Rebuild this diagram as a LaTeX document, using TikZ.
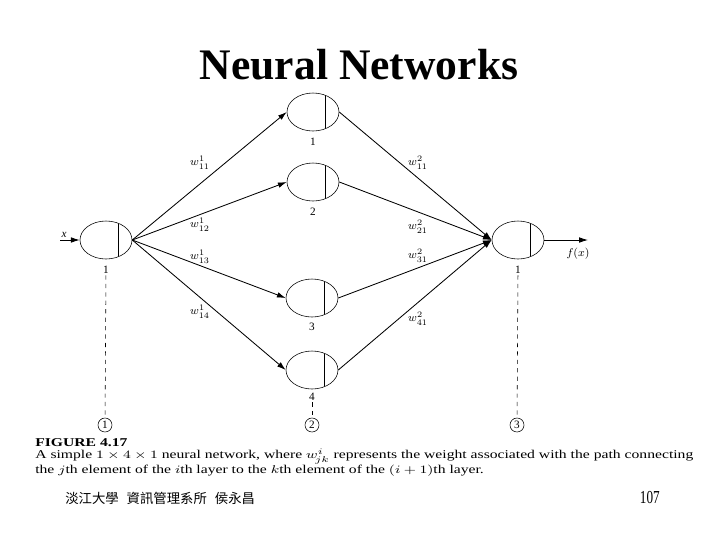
\documentclass[tikz,border=0pt]{standalone}
\usepackage{fontspec}
\setmainfont{Liberation Serif}
\newfontfamily\cjk{Noto Sans CJK TC}
\newfontfamily\pagefont[FakeStretch=0.72]{Liberation Serif}
\usetikzlibrary{arrows.meta,positioning,shapes.geometric}

\begin{document}
\begin{tikzpicture}[
    x=0.025cm, y=-0.025cm,
    neuron/.style={draw, ellipse, minimum width=1.3cm, minimum height=0.95cm, inner sep=0pt,
      path picture={\draw ([xshift=0.3cm]path picture bounding box.north) -- ([xshift=0.3cm]path picture bounding box.south);}},
    wire/.style={-{Latex[length=2.2mm, width=1.4mm]}, semithick},
    weight/.style={font=\fontsize{8}{9}\selectfont, inner sep=1pt},
    idx/.style={font=\fontsize{8}{9}\selectfont, inner sep=1pt},
    layer/.style={draw, circle, inner sep=0.5pt, minimum size=0.35cm, font=\fontsize{8}{9}\selectfont},
    guide/.style={dashed, thin},
    captext/.style={anchor=base west, inner sep=0pt, font=\fontsize{8.5}{9.5}\selectfont}
  ]
    \useasboundingbox (0,0) rectangle (720,540);

    % Title
    \node[font=\fontsize{31}{34}\selectfont\bfseries] (title) at (359,65) {Neural Networks};

    % Input layer
    \node[neuron] (in) at (106,240) {};
    \node[idx] (inlbl) at (106,270) {1};
    \coordinate (xin) at (60,240);
    \node[font=\fontsize{8}{9}\selectfont\itshape] (xlbl) at (64,235) {x};

    % Hidden layer
    \node[neuron] (h1) at (313,112) {};
    \node[neuron] (h2) at (313,182) {};
    \node[neuron] (h3) at (312,298) {};
    \node[neuron] (h4) at (312,370) {};
    \node[idx] (h1lbl) at (313,142) {1};
    \node[idx] (h2lbl) at (313,212) {2};
    \node[idx] (h3lbl) at (312,327) {3};
    \node[idx] (h4lbl) at (312,397) {4};

    % Output layer
    \node[neuron] (out) at (518,240) {};
    \node[idx] (outlbl) at (518,270) {1};
    \coordinate (fout) at (588,240);
    \node[font=\fontsize{8}{9}\selectfont] (flbl) at (578,254) {$f(x)$};

    % Layer markers
    \node[layer] (l1) at (105,425) {1};
    \node[layer] (l2) at (312,425) {2};
    \node[layer] (l3) at (517,425) {3};

    % Edges
    \draw[wire] (xin) -- (in.west);
    \foreach \h in {h1,h2,h3,h4} {
      \draw[wire] (in.east) -- (\h.west);
      \draw[wire] (\h.east) -- (out.west);
    }
    \draw[wire] (out.east) -- (fout);

    % Weights
    \node[weight] (w111) at (200,163) {$w^1_{11}$};
    \node[weight] (w112) at (200,225) {$w^1_{12}$};
    \node[weight] (w113) at (200,257) {$w^1_{13}$};
    \node[weight] (w114) at (200,312) {$w^1_{14}$};
    \node[weight] (w211) at (418,163) {$w^2_{11}$};
    \node[weight] (w221) at (418,227) {$w^2_{21}$};
    \node[weight] (w231) at (418,256) {$w^2_{31}$};
    \node[weight] (w241) at (418,319) {$w^2_{41}$};

    % Dashed guides
    \draw[guide] (inlbl) -- (l1);
    \draw[guide] (h4lbl) -- (l2);
    \draw[guide] (outlbl) -- (l3);

    % Caption
    \node[captext] (figno) at (35,446) {\scalebox{1.31}[1]{\bfseries FIGURE 4.17}};
    \node[captext] (capa) at (35,458) {\scalebox{1.31}[1]{A simple $1\times4\times1$ neural network, where $w^i_{\!jk}$ represents the weight associated with the path connecting}};
    \node[captext] (capb) at (35,473) {\scalebox{1.31}[1]{the $j$th element of the $i$th layer to the $k$th element of the $(i+1)$th layer.}};

    % Footer
    \node[anchor=west, inner sep=0pt, font=\cjk\fontsize{9.5}{11}\selectfont] (school) at (65,498) {淡江大學\hspace{0.6em}資訊管理系所\hspace{0.6em}侯永昌};
    \node[anchor=east, inner sep=0pt, font=\pagefont\fontsize{13}{15}\selectfont] (page) at (660,497) {107};
\end{tikzpicture}
\end{document}
